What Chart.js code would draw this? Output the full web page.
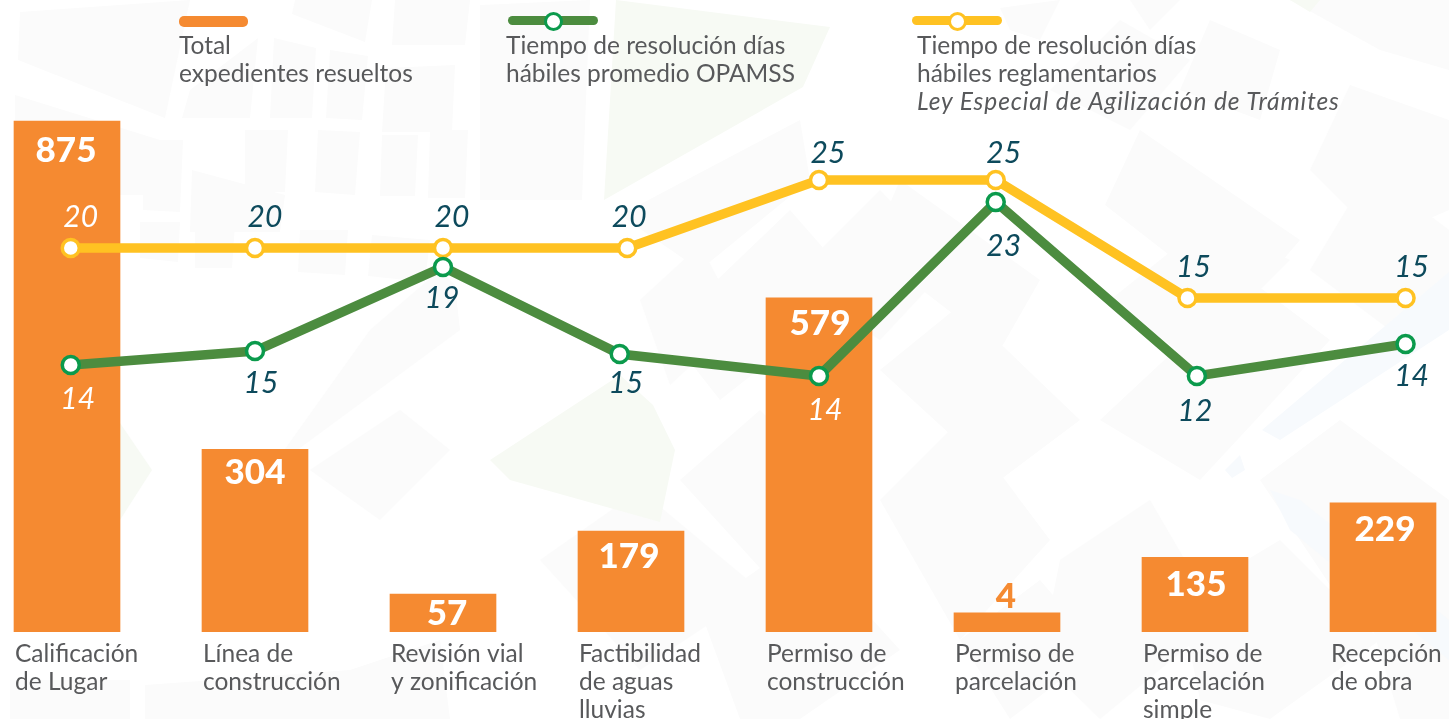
<!DOCTYPE html>
<html lang="es">
<head>
<meta charset="utf-8">
<script src="https://cdn.jsdelivr.net/npm/chart.js@4"></script>
<style>
html,body{margin:0;padding:0;background:#fff;overflow:hidden}
#stage{position:relative;width:1449px;height:719px;overflow:hidden;font-family:Lato,sans-serif}
#bg,#c{position:absolute;left:0;top:0}
.lg{position:absolute;top:31px;font-size:24.5px;line-height:28px;color:#58595b;white-space:nowrap}
.lg i{letter-spacing:.9px}
.key{position:absolute;border-radius:5px}
.dot{position:absolute;width:13px;height:13px;border-radius:50%;background:#fff;border-style:solid;border-width:3px;top:12px}
</style>
</head>
<body>
<div id="stage">
<svg id="bg" width="1449" height="719" xmlns="http://www.w3.org/2000/svg">
  <g fill="#fbfbfb">
    <polygon points="20,12 190,0 165,118 18,60"/>
    <polygon points="295,0 372,0 365,42 292,14"/>
    <polygon points="395,0 470,0 465,45 392,45"/>
    <polygon points="15,95 160,140 165,195 15,195"/>
    <polygon points="190,90 258,38 250,118 182,118"/>
    <polygon points="274,38 316,48 312,118 270,118"/>
    <polygon points="330,50 368,56 362,120 326,118"/>
    <polygon points="386,68 455,65 452,132 382,132"/>
    <polygon points="143,140 183,140 180,212 143,210"/>
    <polygon points="192,170 285,195 280,232 190,232"/>
    <polygon points="245,130 288,130 285,192 245,192"/>
    <polygon points="318,130 360,132 355,195 315,192"/>
    <polygon points="382,135 418,135 415,196 380,196"/>
    <polygon points="430,130 468,130 465,198 428,198"/>
    <polygon points="140,222 180,222 178,262 140,258"/>
    <polygon points="195,224 235,224 232,268 195,268"/>
    <polygon points="300,230 348,230 345,275 298,272"/>
    <polygon points="372,235 430,240 425,282 368,276"/>
    <polygon points="480,5 590,0 582,200 480,200"/>
    <polygon points="370,330 440,270 455,285 460,330 270,470"/>
    <polygon points="310,470 400,410 450,450 380,520"/>
    <polygon points="10,680 130,680 130,719 10,719"/>
    <polygon points="145,685 350,670 440,640 450,719 145,719"/>
    <polygon points="620,215 800,120 810,180 700,270"/>
    <polygon points="640,300 700,245 740,320 670,385"/>
    <polygon points="665,330 790,210 860,290 720,400"/>
    <polygon points="790,280 880,190 950,265 880,340"/>
    <polygon points="680,480 760,410 860,510 780,590"/>
    <polygon points="540,560 640,490 760,590 640,670"/>
    <polygon points="700,610 800,540 900,650 800,719 740,719"/>
    <polygon points="880,370 960,305 1080,420 1000,480"/>
    <polygon points="880,500 960,420 1050,540 960,640"/>
    <polygon points="1060,560 1150,500 1220,620 1100,719 1040,660"/>
    <polygon points="900,180 1040,280 1000,350 870,250"/>
    <polygon points="1100,420 1250,280 1330,340 1200,480"/>
    <polygon points="1260,480 1340,420 1449,500 1449,560 1340,600"/>
    <polygon points="1140,130 1300,240 1240,310 1105,205"/>
    <polygon points="1350,85 1449,120 1449,210 1380,240 1310,170"/>
    <polygon points="1310,270 1370,170 1449,230 1449,300 1390,330"/>
    <polygon points="1000,8 1060,0 1040,40 1010,30"/>
    <polygon points="1130,0 1180,0 1150,30"/>
    <polygon points="1210,20 1280,50 1260,120 1180,90"/>
    <polygon points="1050,90 1120,20 1190,60 1130,130"/>
    <polygon points="1290,0 1449,0 1449,70 1380,50"/>
    <polygon points="1110,300 1210,220 1290,260 1190,360"/>
    <polygon points="1180,600 1280,540 1380,640 1270,719 1200,700"/>
    <polygon points="960,640 1040,580 1100,650 1010,719"/>
    <polygon points="1370,620 1449,550 1449,719 1400,719"/>
  </g>
  <g fill="#f7faf4">
    <polygon points="616,0 830,27 803,87 604,200"/>
    <polygon points="1290,0 1320,0 1310,12"/>
    <polygon points="120,423 152,470 120,520"/>
    <polygon points="490,460 620,375 653,405 675,450 660,522 510,480"/>
  </g>
  <g fill="#f7fafd">
    <polygon points="1262,430 1449,272 1449,330 1280,440"/>
    <polygon points="1225,470 1240,455 1245,470 1232,478"/>
    <polygon points="1270,490 1300,500 1449,620 1449,660 1290,530"/>
  </g>
</svg>
<canvas id="c" width="1449" height="719"></canvas>

<div class="key" style="left:179px;top:16px;width:69px;height:11px;background:#f58a31"></div>
<div class="lg" style="left:179px">Total<br>expedientes resueltos</div>

<div class="key" style="left:508px;top:16px;width:90px;height:9px;background:#4c8c3f"></div>
<div class="dot" style="left:544px;border-color:#0b9a4c"></div>
<div class="lg" style="left:506px">Tiempo de resolución días<br>hábiles promedio OPAMSS</div>

<div class="key" style="left:912px;top:16px;width:90px;height:9px;background:#ffc222"></div>
<div class="dot" style="left:948px;border-color:#ffc222"></div>
<div class="lg" style="left:917px">Tiempo de resolución días<br>hábiles reglamentarios<br><i>Ley Especial de Agilización de Trámites</i></div>
</div>

<script>
// Categories (one entry per bar; each inner list is the wrapped label)
const categories = [
  ["Calificación","de Lugar"],
  ["Línea de","construcción"],
  ["Revisión vial","y zonificación"],
  ["Factibilidad","de aguas","lluvias"],
  ["Permiso de","construcción"],
  ["Permiso de","parcelación"],
  ["Permiso de","parcelación","simple"],
  ["Recepción","de obra"]
];

// Printed values
const totalResueltos = [875, 304, 57, 179, 579, 4, 135, 229];
const diasPromedio   = [14, 15, 19, 15, 14, 23, 12, 14];
const diasReglamento = [20, 20, 20, 20, 25, 25, 15, 15];

// The source is hand-drawn: mark heights do not follow the printed values,
// so the heights as drawn are read off separately.
const barraDibujada    = [875, 313, 65, 173, 572, 33, 128, 221];
const promedioDibujado = [9.32, 10.51, 17.63, 10.25, 8.39, 23.14, 8.39, 11.1];
const reglaDibujada    = [19.24, 19.24, 19.24, 19.24, 25, 25, 15, 15];

// Horizontal position of marks, in category units
const xBarras   = [0, 1, 2, 3, 4, 5, 6, 7];
const xPromedio = [0.02, 1, 2, 2.94, 4, 4.94, 6.01, 7.12];
const xRegla    = [0.02, 1, 2, 2.98, 4, 4.94, 5.96, 7.12];

// Label nudges relative to their marks (px)
const offBarra    = [[-1,30],[0,24],[4,20],[-2,26],[1,26],[-1,-16],[1,27],[2,27]];
const offPromedio = [[7,34],[6,32],[-1,31],[6,29],[6,34],[8,44],[-2,35],[6,32]];
const offRegla    = [[10,-31],[10,-31],[9,-31],[2,-31],[9,-27],[8,-27],[6,-31],[6,-31]];

const FONT = 'Lato, sans-serif';
const ORANGE = '#f58a31', GREEN = '#4c8c3f', GREEN_RING = '#0b9a4c', YELLOW = '#ffc222', TEAL = '#0d4a5c';

const valueLabels = {
  id: 'valueLabels',
  afterDatasetsDraw(chart) {
    const ctx = chart.ctx;
    ctx.save();
    ctx.textAlign = 'center';
    ctx.textBaseline = 'middle';
    const bars = chart.getDatasetMeta(2).data;
    bars.forEach((el, i) => {
      const o = offBarra[i];
      ctx.font = '900 35px ' + FONT;
      ctx.fillStyle = totalResueltos[i] === 4 ? ORANGE : '#fff';
      ctx.fillText(String(totalResueltos[i]), el.x + o[0], el.y + o[1]);
    });
    const onBar = (x, y) => bars.some(b => x > b.x - 53 && x < b.x + 53 && y > b.y);
    ctx.font = 'italic 400 30px ' + FONT;
    [[1, offPromedio, diasPromedio], [0, offRegla, diasReglamento]].forEach(([m, off, vals]) => {
      chart.getDatasetMeta(m).data.forEach((p, i) => {
        const x = p.x + off[i][0], y = p.y + off[i][1];
        ctx.fillStyle = onBar(x, y) ? '#fff' : TEAL;
        ctx.fillText(String(vals[i]), x, y);
      });
    });
    // category labels, left-aligned with each bar, hung under the axis
    ctx.textAlign = 'left';
    ctx.font = '400 24.5px ' + FONT;
    ctx.fillStyle = '#58595b';
    const base = chart.chartArea.bottom;
    bars.forEach((b, i) => {
      categories[i].forEach((line, k) => {
        ctx.fillText(line, b.x - 52, base + 22 + k * 28);
      });
    });
    ctx.restore();
  }
};

const toXY = (xs, ys) => xs.map((x, i) => ({ x, y: ys[i] }));
const ptStyle = c => ({
  borderColor: c, borderWidth: 9.5, pointRadius: 8.5, pointHoverRadius: 8.5,
  pointBorderColor: c, pointBorderWidth: 3.5, pointBackgroundColor: '#fff',
  tension: 0, fill: false, clip: false
});

new Chart(document.getElementById('c'), {
  data: {
    datasets: [
      { type: 'line', label: 'Tiempo de resolución días hábiles reglamentarios',
        data: toXY(xRegla, reglaDibujada), yAxisID: 'yLinea', order: 2, ...ptStyle(YELLOW) },
      { type: 'line', label: 'Tiempo de resolución días hábiles promedio OPAMSS',
        data: toXY(xPromedio, promedioDibujado), yAxisID: 'yLinea', order: 1, ...ptStyle(GREEN),
        pointBorderColor: GREEN_RING },
      { type: 'bar', label: 'Total expedientes resueltos',
        data: toXY(xBarras, barraDibujada), yAxisID: 'yBarra', order: 3,
        backgroundColor: ORANGE, barThickness: 106, borderWidth: 0 }
    ]
  },
  options: {
    responsive: false,
    animation: false,
    events: [],
    layout: { padding: 0, autoPadding: false },
    plugins: { legend: { display: false }, tooltip: { enabled: false } },
    scales: {
      x: {
        type: 'linear',
        offset: false,
        min: -67 / 188,
        max: (1449 - 67) / 188,
        grid: { display: false, drawTicks: false },
        border: { display: false },
        afterFit(s) { s.height = 87; },
        ticks: { display: false }
      },
      yBarra: { type: 'linear', display: false, min: 0, max: 875 * 632 / 511 },
      yLinea: { type: 'linear', display: false, min: 25 - 452 / 11.8, max: 25 + 180 / 11.8 }
    }
  },
  plugins: [valueLabels]
});
</script>
</body>
</html>
